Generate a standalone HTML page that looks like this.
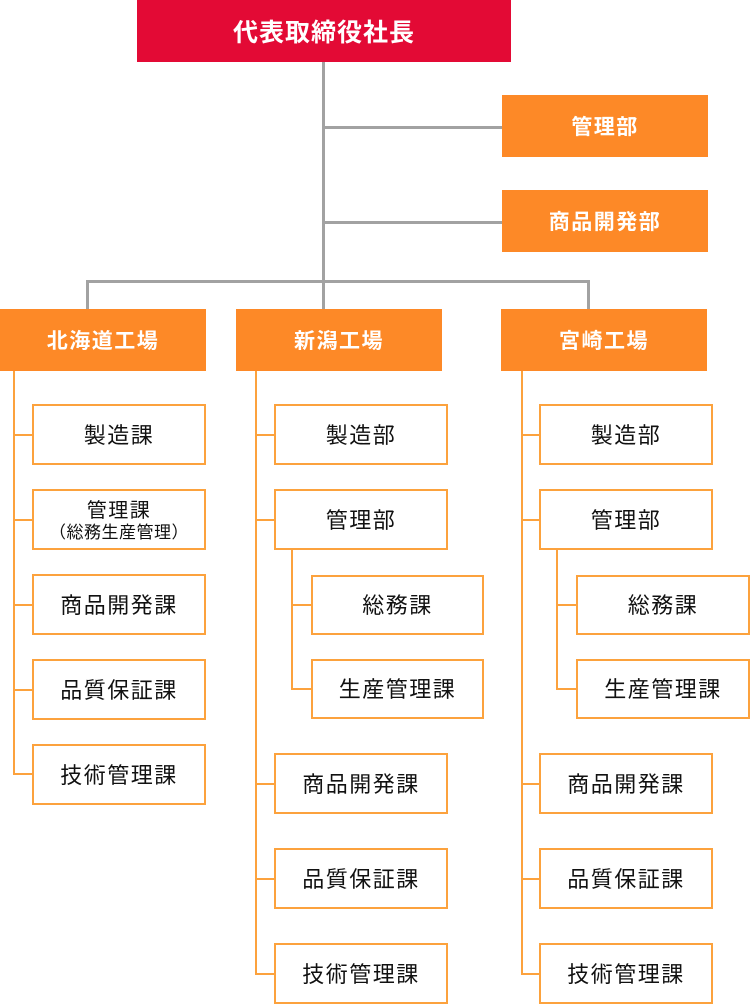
<!DOCTYPE html>
<html><head><meta charset="utf-8">
<style>
html,body{margin:0;padding:0;background:#fff;}
body{width:750px;height:1005px;position:relative;overflow:hidden;font-family:"Liberation Sans","Noto Sans CJK JP",sans-serif;}
.a{position:absolute;box-sizing:border-box;}
.red{background:#e30a35;color:#fff;font-weight:bold;font-size:25px;letter-spacing:1px;display:flex;align-items:center;justify-content:center;}
.of{background:#fd8927;color:#fff;font-weight:bold;font-size:21px;letter-spacing:1.5px;display:flex;align-items:center;justify-content:center;}
.ob{border:2px solid #fca23d;background:#fff;color:#111;font-size:22px;letter-spacing:1.5px;display:flex;flex-direction:column;align-items:center;justify-content:center;line-height:1.1;padding-top:3px;}
.g{background:#a2a2a2;}
.o{background:#fca23d;}
.small{font-size:17px;letter-spacing:0.5px;margin-top:2px;}
</style></head><body>
<!-- top -->
<div class="a red" style="left:137px;top:0;width:374px;height:62px;">代表取締役社長</div>
<div class="a g" style="left:322px;top:62px;width:3px;height:247px;"></div>
<div class="a g" style="left:325px;top:126px;width:177px;height:3px;"></div>
<div class="a g" style="left:325px;top:221px;width:177px;height:3px;"></div>
<div class="a of" style="left:502px;top:95px;width:206px;height:62px;">管理部</div>
<div class="a of" style="left:502px;top:190px;width:206px;height:62px;">商品開発部</div>
<div class="a g" style="left:86px;top:280px;width:504px;height:3px;"></div>
<div class="a g" style="left:86px;top:280px;width:3px;height:29px;"></div>
<div class="a g" style="left:587px;top:280px;width:3px;height:29px;"></div>
<div class="a of" style="left:0;top:309px;width:206px;height:62px;">北海道工場</div>
<div class="a of" style="left:236px;top:309px;width:206px;height:62px;">新潟工場</div>
<div class="a of" style="left:501px;top:309px;width:206px;height:62px;">宮崎工場</div>

<!-- left column -->
<div class="a o" style="left:13px;top:371px;width:2px;height:404px;"></div>
<div class="a o" style="left:13px;top:434px;width:20px;height:2px;"></div>
<div class="a o" style="left:13px;top:519px;width:20px;height:2px;"></div>
<div class="a o" style="left:13px;top:604px;width:20px;height:2px;"></div>
<div class="a o" style="left:13px;top:689px;width:20px;height:2px;"></div>
<div class="a o" style="left:13px;top:773px;width:20px;height:2px;"></div>
<div class="a ob" style="left:32px;top:404px;width:174px;height:61px;">製造課</div>
<div class="a ob" style="left:32px;top:489px;width:174px;height:61px;"><span style="font-size:20px;">管理課</span><span class="small">（総務生産管理）</span></div>
<div class="a ob" style="left:32px;top:574px;width:174px;height:61px;">商品開発課</div>
<div class="a ob" style="left:32px;top:659px;width:174px;height:61px;">品質保証課</div>
<div class="a ob" style="left:32px;top:744px;width:174px;height:61px;">技術管理課</div>

<!-- middle column -->
<div class="a o" style="left:255px;top:371px;width:2px;height:604px;"></div>
<div class="a o" style="left:255px;top:434px;width:20px;height:2px;"></div>
<div class="a o" style="left:255px;top:519px;width:20px;height:2px;"></div>
<div class="a o" style="left:255px;top:783px;width:20px;height:2px;"></div>
<div class="a o" style="left:255px;top:878px;width:20px;height:2px;"></div>
<div class="a o" style="left:255px;top:973px;width:20px;height:2px;"></div>
<div class="a ob" style="left:274px;top:404px;width:174px;height:61px;">製造部</div>
<div class="a ob" style="left:274px;top:489px;width:174px;height:61px;">管理部</div>
<div class="a o" style="left:291px;top:550px;width:2px;height:140px;"></div>
<div class="a o" style="left:291px;top:604px;width:21px;height:2px;"></div>
<div class="a o" style="left:291px;top:688px;width:21px;height:2px;"></div>
<div class="a ob" style="left:311px;top:575px;width:173px;height:60px;">総務課</div>
<div class="a ob" style="left:311px;top:659px;width:173px;height:60px;">生産管理課</div>
<div class="a ob" style="left:274px;top:753px;width:174px;height:61px;">商品開発課</div>
<div class="a ob" style="left:274px;top:848px;width:174px;height:61px;">品質保証課</div>
<div class="a ob" style="left:274px;top:943px;width:174px;height:61px;">技術管理課</div>

<!-- right column -->
<div class="a o" style="left:521px;top:371px;width:2px;height:604px;"></div>
<div class="a o" style="left:521px;top:434px;width:19px;height:2px;"></div>
<div class="a o" style="left:521px;top:519px;width:19px;height:2px;"></div>
<div class="a o" style="left:521px;top:783px;width:19px;height:2px;"></div>
<div class="a o" style="left:521px;top:878px;width:19px;height:2px;"></div>
<div class="a o" style="left:521px;top:973px;width:19px;height:2px;"></div>
<div class="a ob" style="left:539px;top:404px;width:174px;height:61px;">製造部</div>
<div class="a ob" style="left:539px;top:489px;width:174px;height:61px;">管理部</div>
<div class="a o" style="left:556px;top:550px;width:2px;height:140px;"></div>
<div class="a o" style="left:556px;top:604px;width:21px;height:2px;"></div>
<div class="a o" style="left:556px;top:688px;width:21px;height:2px;"></div>
<div class="a ob" style="left:576px;top:575px;width:174px;height:60px;">総務課</div>
<div class="a ob" style="left:576px;top:659px;width:174px;height:60px;">生産管理課</div>
<div class="a ob" style="left:539px;top:753px;width:174px;height:61px;">商品開発課</div>
<div class="a ob" style="left:539px;top:848px;width:174px;height:61px;">品質保証課</div>
<div class="a ob" style="left:539px;top:943px;width:174px;height:61px;">技術管理課</div>
</body></html>
